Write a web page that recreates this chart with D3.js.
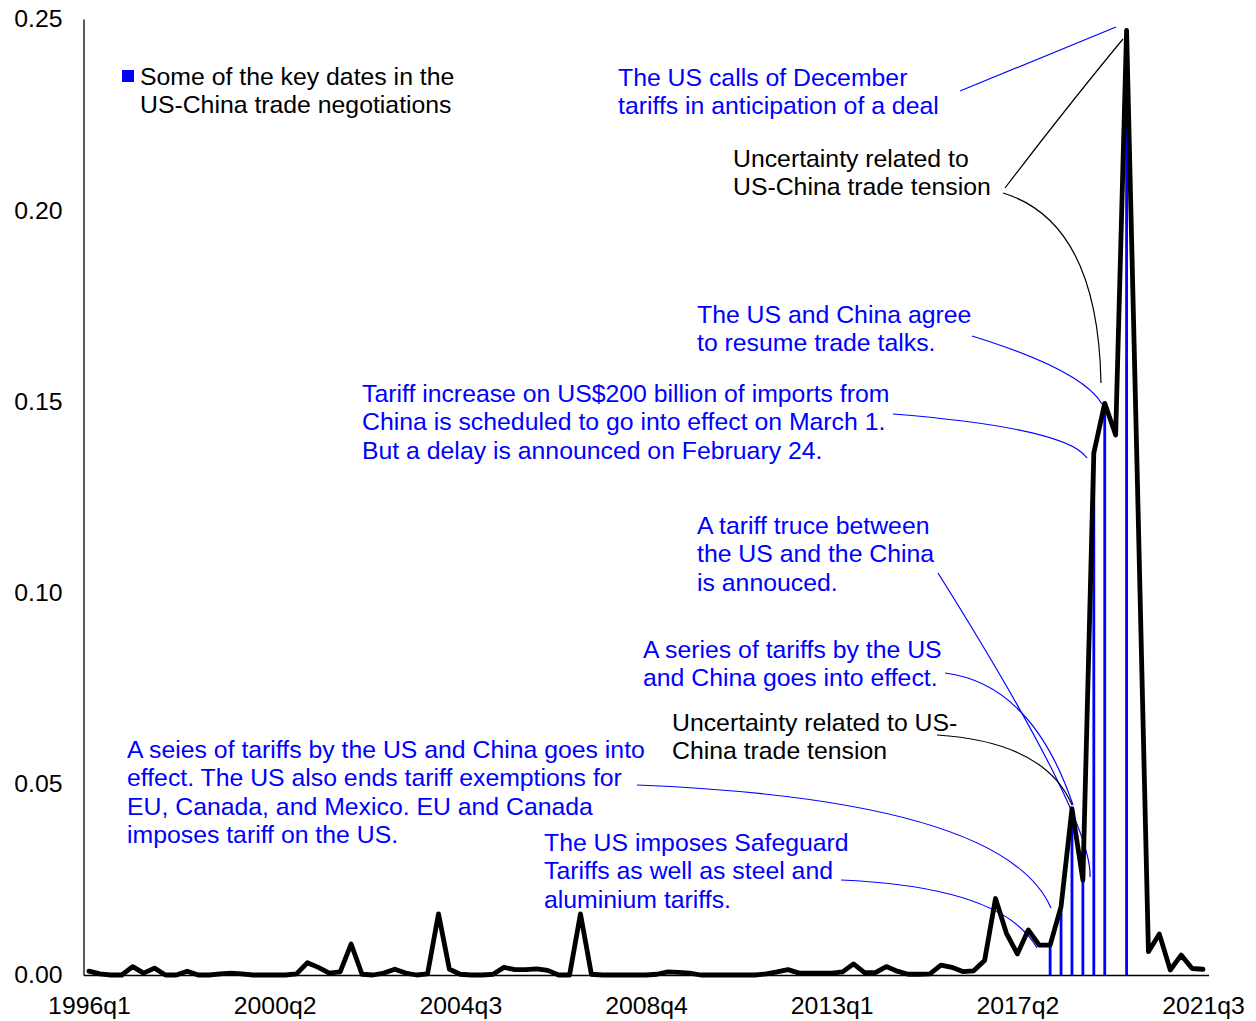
<!DOCTYPE html>
<html>
<head>
<meta charset="utf-8">
<script src="https://cdn.jsdelivr.net/npm/d3@7"></script>
<style>
  html, body { margin: 0; padding: 0; background: #fff; }
  svg { display: block; }
  text { font-family: "Liberation Sans", Arial, sans-serif; }
</style>
</head>
<body>
<svg id="chart" width="1256" height="1021"></svg>
<script>
// ---------------- DATA ----------------
const startYear = 1996, startQuarter = 1, nQuarters = 103; // 1996q1 .. 2021q3
const quarters = [];
for (let i = 0; i < nQuarters; i++) {
  const q = startQuarter - 1 + i;
  quarters.push((startYear + Math.floor(q / 4)) + "q" + (q % 4 + 1));
}

// Uncertainty index
const uncertainty = [
  0.0010, 0.0003, 0.0000, 0.0000, 0.0022, 0.0005, 0.0018, 0.0000, 0.0000, 0.0010,
  0.0000, 0.0000, 0.0003, 0.0005, 0.0003, 0.0000, 0.0000, 0.0000, 0.0000, 0.0003,
  0.0032, 0.0020, 0.0005, 0.0008, 0.0081, 0.0002, 0.0000, 0.0005, 0.0015, 0.0005,
  0.0000, 0.0003, 0.0160, 0.0015, 0.0002, 0.0000, 0.0000, 0.0002, 0.0020, 0.0014,
  0.0014, 0.0016, 0.0012, 0.0000, 0.0000, 0.0160, 0.0002, 0.0000, 0.0000, 0.0000,
  0.0000, 0.0000, 0.0002, 0.0008, 0.0007, 0.0005, 0.0000, 0.0000, 0.0000, 0.0000,
  0.0000, 0.0000, 0.0003, 0.0008, 0.0014, 0.0005, 0.0005, 0.0005, 0.0005, 0.0008,
  0.0029, 0.0006, 0.0006, 0.0022, 0.0010, 0.0002, 0.0002, 0.0003, 0.0026, 0.0020,
  0.0009, 0.0011, 0.0038, 0.0200, 0.0109, 0.0055, 0.0118, 0.0078, 0.0078, 0.0179,
  0.0435, 0.0248, 0.1365, 0.1495, 0.1412, 0.2470, 0.1280, 0.0061, 0.0107, 0.0013,
  0.0052, 0.0017, 0.0015
];

// Key dates in the US-China trade negotiations (blue columns)
const keyDates  = ["2018q1", "2018q2", "2018q3", "2018q4", "2019q1", "2019q2", "2019q4"];
const keyValues = [0.0078, 0.0179, 0.0435, 0.0248, 0.1365, 0.1495, 0.2470];

const xTickLabels = ["1996q1", "2000q2", "2004q3", "2008q4", "2013q1", "2017q2", "2021q3"];
const yTickValues = [0, 0.05, 0.10, 0.15, 0.20, 0.25];

const legendLines = ["Some of the key dates in the", "US-China trade negotiations"];

// Annotation texts
const annTexts = [
  ["The US calls of December", "tariffs in anticipation of a deal"],
  ["Uncertainty related to", "US-China trade tension"],
  ["The US and China agree", "to resume trade talks."],
  ["Tariff increase on US$200 billion of imports from", "China is scheduled to go into effect on March 1.", "But a delay is announced on February 24."],
  ["A tariff truce between", "the US and the China", "is annouced."],
  ["A series of tariffs by the US", "and China goes into effect."],
  ["Uncertainty related to US-", "China trade tension"],
  ["A seies of tariffs by the US and China goes into", "effect. The US also ends tariff exemptions for", "EU, Canada, and Mexico. EU and Canada", "imposes tariff on the US."],
  ["The US imposes Safeguard", "Tariffs as well as steel and", "aluminium tariffs."]
];

// ---------------- LAYOUT ----------------
const W = 1256, H = 1021;
const plot = { left: 83.5, right: 1208.5, top: 19, bottom: 975 };
const fontSize = 24.8, lineGap = 28.5;
const BLUE = "#0000ff";

// annotation placement: text origin (left, first line center), colour, connector (start, control(s), end)
const annLayout = [
  { x: 618, y: 77,  color: BLUE,    path: [[960, 91], [1116, 27]] },
  { x: 733, y: 158, color: "#000",  path: [[1005, 188], [1070, 103], [1123, 39]], extra: [[1003, 193], [1098, 222], [1101, 383]] },
  { x: 697, y: 314, color: BLUE,    path: [[972, 336], [1082, 370], [1102, 404]] },
  { x: 362, y: 393, color: BLUE,    path: [[893, 414], [1067, 428], [1087, 458]] },
  { x: 697, y: 525, color: BLUE,    path: [[938, 573], [1093, 820], [1090, 877]] },
  { x: 643, y: 649, color: BLUE,    path: [[945, 673], [1032, 684], [1073, 805]] },
  { x: 672, y: 722, color: "#000",  path: [[937, 735], [1045, 742], [1072, 805]] },
  { x: 127, y: 749, color: BLUE,    path: [[637, 785], [1004, 800], [1051, 908]] },
  { x: 544, y: 842, color: BLUE,    path: [[841, 880], [1003, 887], [1037, 948]] }
];

// ---------------- DRAW ----------------
const svg = d3.select("#chart");
svg.append("rect").attr("width", W).attr("height", H).attr("fill", "#fff");

const x = d3.scalePoint().domain(quarters).range([plot.left, plot.right]).padding(0.5);
const y = d3.scaleLinear().domain([0, 0.25]).range([plot.bottom, plot.top]);

// Y axis
const yAxis = d3.axisLeft(y).tickValues(yTickValues).tickFormat(d3.format(".2f")).tickSize(0).tickPadding(21);
const gy = svg.append("g").attr("transform", `translate(${plot.left},0)`).call(yAxis);
gy.select(".domain").attr("stroke", "#000").attr("stroke-width", 1.3);
gy.selectAll("text").attr("font-size", fontSize).attr("fill", "#000").attr("font-family", '"Liberation Sans", Arial, sans-serif');

// X axis
const xAxis = d3.axisBottom(x).tickValues(xTickLabels).tickSize(0).tickPadding(21);
const gx = svg.append("g").attr("transform", `translate(0,${plot.bottom})`).call(xAxis);
gx.select(".domain").attr("stroke", "#000").attr("stroke-width", 1.3);
gx.selectAll("text").attr("font-size", fontSize).attr("fill", "#000").attr("font-family", '"Liberation Sans", Arial, sans-serif');

// Key date columns
svg.append("g").selectAll("rect").data(keyDates.map((d, i) => ({ q: d, v: keyValues[i] })))
  .join("rect")
  .attr("x", d => x(d.q) - 1.4)
  .attr("width", 2.8)
  .attr("y", d => y(d.v))
  .attr("height", d => y(0) - y(d.v))
  .attr("fill", BLUE);

// Connectors
function connectorPath(pts) {
  if (pts.length === 2) return `M${pts[0][0]},${pts[0][1]}L${pts[1][0]},${pts[1][1]}`;
  if (pts.length === 3) return `M${pts[0][0]},${pts[0][1]}Q${pts[1][0]},${pts[1][1]} ${pts[2][0]},${pts[2][1]}`;
  return `M${pts[0][0]},${pts[0][1]}C${pts[1][0]},${pts[1][1]} ${pts[2][0]},${pts[2][1]} ${pts[3][0]},${pts[3][1]}`;
}
const gConn = svg.append("g").attr("fill", "none");
annLayout.forEach(a => {
  gConn.append("path").attr("d", connectorPath(a.path)).attr("stroke", a.color).attr("stroke-width", 1.2);
  if (a.extra) gConn.append("path").attr("d", connectorPath(a.extra)).attr("stroke", a.color).attr("stroke-width", 1.2);
});

// Uncertainty line
const line = d3.line().x((d, i) => x(quarters[i])).y(d => y(d));
svg.append("path").datum(uncertainty)
  .attr("d", line)
  .attr("fill", "none")
  .attr("stroke", "#000")
  .attr("stroke-width", 4.8)
  .attr("stroke-linejoin", "round")
  .attr("stroke-linecap", "round");

// Annotation texts
annTexts.forEach((lines, k) => {
  const a = annLayout[k];
  const t = svg.append("text").attr("font-size", fontSize).attr("fill", a.color);
  lines.forEach((s, j) => {
    t.append("tspan").attr("x", a.x).attr("y", a.y + j * lineGap).attr("dy", "0.35em").text(s);
  });
});

// Legend
svg.append("rect").attr("x", 122).attr("y", 70).attr("width", 12).attr("height", 12).attr("fill", BLUE);
const lt = svg.append("text").attr("font-size", fontSize).attr("fill", "#000");
legendLines.forEach((s, j) => {
  lt.append("tspan").attr("x", 140).attr("y", 76 + j * 28).attr("dy", "0.35em").text(s);
});
</script>
</body>
</html>
